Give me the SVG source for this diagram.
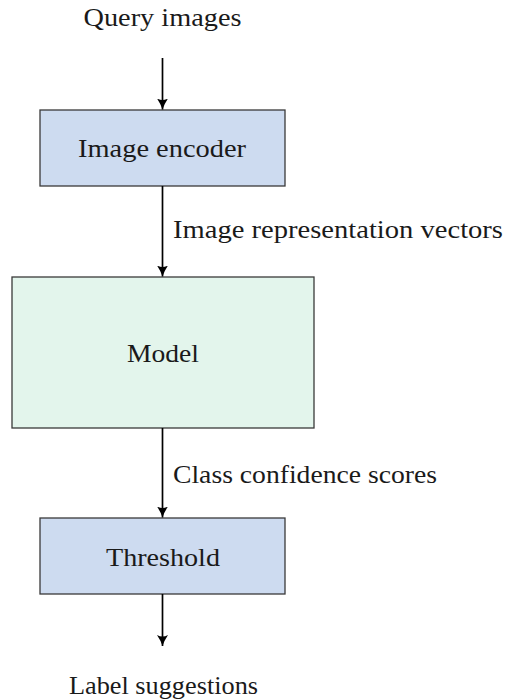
<svg xmlns="http://www.w3.org/2000/svg" width="507" height="700" viewBox="0 0 507 700">
  <style>
    .box { stroke: #3a3a3a; stroke-width: 1.3; }
    .enc { fill: #cddbf0; }
    .mdl { fill: #e3f5ec; }
    .lbl { font-family: "Liberation Serif", "Times New Roman", "DejaVu Serif", serif; font-size: 25px; fill: #1a1a1a; }
    .mid { text-anchor: middle; }
    .edge { stroke: #000; stroke-width: 1.7; fill: none; marker-end: url(#arrow); }
  </style>
  <defs>
    <!-- curved-back arrowhead, tip at (11,6) -->
    <marker id="arrow" markerWidth="14" markerHeight="14" refX="11" refY="6" orient="auto" markerUnits="userSpaceOnUse">
      <path d="M0,0.5 Q6,4.5 11,6 Q6,7.5 0,11.5 Q3,6 0,0.5 Z" fill="#000"/>
    </marker>
  </defs>

  <g id="input">
    <text class="lbl mid" x="162.5" y="26" textLength="158" lengthAdjust="spacingAndGlyphs">Query images</text>
  </g>

  <g id="image-encoder">
    <rect class="box enc" x="40" y="110" width="245" height="76"/>
    <text class="lbl mid" x="162" y="157" textLength="168" lengthAdjust="spacingAndGlyphs">Image encoder</text>
  </g>

  <g id="model">
    <rect class="box mdl" x="12" y="277" width="302" height="151"/>
    <text class="lbl mid" x="163" y="362" textLength="72" lengthAdjust="spacingAndGlyphs">Model</text>
  </g>

  <g id="threshold">
    <rect class="box enc" x="40" y="518" width="245" height="76"/>
    <text class="lbl mid" x="163" y="566" textLength="114" lengthAdjust="spacingAndGlyphs">Threshold</text>
  </g>

  <g id="output">
    <text class="lbl mid" x="163.5" y="694" textLength="189" lengthAdjust="spacingAndGlyphs">Label suggestions</text>
  </g>

  <g id="connectors">
    <line class="edge" x1="162.5" y1="58" x2="162.5" y2="109.5"/>
    <line class="edge" x1="162.5" y1="186" x2="162.5" y2="276.5"/>
    <line class="edge" x1="162.5" y1="428" x2="162.5" y2="517.5"/>
    <line class="edge" x1="162.5" y1="594" x2="162.5" y2="646"/>
    <text class="lbl" x="173" y="238" textLength="330" lengthAdjust="spacingAndGlyphs">Image representation vectors</text>
    <text class="lbl" x="173" y="483" textLength="264" lengthAdjust="spacingAndGlyphs">Class confidence scores</text>
  </g>
</svg>
